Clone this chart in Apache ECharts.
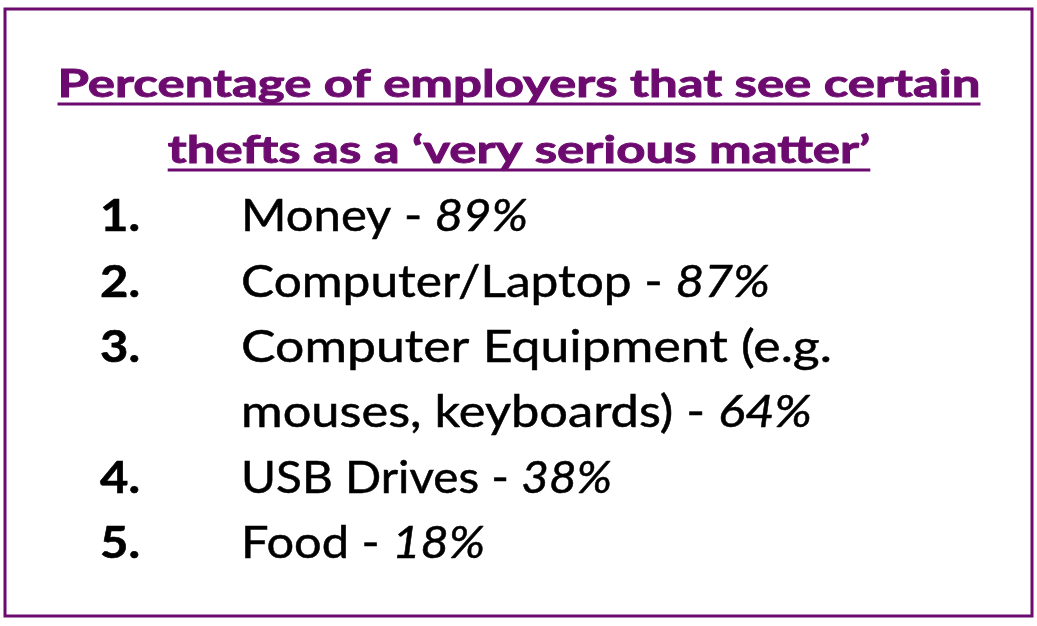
<!DOCTYPE html>
<html>
<head>
<meta charset="utf-8">
<script src="https://cdn.jsdelivr.net/npm/echarts@6/dist/echarts.min.js"></script>
<style>
html,body{margin:0;padding:0;background:#fff;}
#chart{width:1037px;height:626px;}
</style>
</head>
<body>
<div id="chart"></div>
<script>
// ---- data ----
const titleLines = ['Percentage of employers that see certain', 'thefts as a \u2018very serious matter\u2019'];
const ranks = ['1.', '2.', '3.', '4.', '5.'];
const categories = ['Money', 'Computer/Laptop', 'Computer Equipment (e.g.\nmouses, keyboards)', 'USB Drives', 'Food'];
const values = [89, 87, 64, 38, 18];

// ---- style / layout ----
const PURPLE = '#6d0a6f';
const FONT = 'Lato';
const TITLE_SIZE = 38;
const ITEM_SIZE = 44;
const TITLE_CX = 519;
const TITLE_BASE = [97, 163];
const TITLE_W1 = 923;
const ITEM_BASE0 = 231;
const ITEM_STEP = 65.4;
const RANK_X = 100;
const RANK_W = 40;
const TEXT_X = 241;
const LINE_RIGHT = [528, 770, 832, 812, 612, 485]; // right edge of each printed line

const chart = echarts.init(document.getElementById('chart'));
const ctx = document.createElement('canvas').getContext('2d');
function measure(font, txt) { ctx.font = font; return ctx.measureText(txt).width; }

function build() {
  const g = [];
  // frame
  g.push({type: 'rect', shape: {x: 5, y: 9, width: 1027, height: 607},
    style: {fill: 'none', stroke: PURPLE, lineWidth: 3}});
  // title
  const tFont = 'bold ' + TITLE_SIZE + 'px ' + FONT;
  const tScale = TITLE_W1 / measure(tFont, titleLines[0]);
  titleLines.forEach((t, i) => {
    const w = measure(tFont, t) * tScale;
    g.push({type: 'text', x: TITLE_CX, y: TITLE_BASE[i] - 0.32 * TITLE_SIZE, scaleX: tScale,
      style: {text: t, fill: PURPLE, stroke: PURPLE, lineWidth: 0.9, font: tFont, align: 'center', verticalAlign: 'middle'}});
    g.push({type: 'line', shape: {x1: TITLE_CX - w / 2, y1: TITLE_BASE[i] + 7, x2: TITLE_CX + w / 2, y2: TITLE_BASE[i] + 7},
      style: {stroke: PURPLE, lineWidth: 3}});
  });
  // list
  const iFont = ITEM_SIZE + 'px ' + FONT;
  const itFont = 'italic ' + ITEM_SIZE + 'px ' + FONT;
  const bFont = 'bold ' + ITEM_SIZE + 'px ' + FONT;
  const rScale = RANK_W / measure(bFont, '1.');
  let line = 0;
  categories.forEach((c, i) => {
    const parts = c.split('\n');
    const y0 = ITEM_BASE0 + line * ITEM_STEP - 0.32 * ITEM_SIZE;
    g.push({type: 'text', x: RANK_X, y: y0, scaleX: rScale,
      style: {text: ranks[i], fill: '#000', stroke: '#000', lineWidth: 0.6, font: bFont, align: 'left', verticalAlign: 'middle'}});
    parts.forEach((p, k) => {
      const y = ITEM_BASE0 + line * ITEM_STEP - 0.32 * ITEM_SIZE;
      const last = k === parts.length - 1;
      const txt = last ? '{n|' + p + ' - }{v|' + values[i] + '%}' : '{n|' + p + '}';
      const w = last ? measure(iFont, p + ' - ') + measure(itFont, values[i] + '%') : measure(iFont, p);
      const sc = (LINE_RIGHT[line] - TEXT_X) / w;
      g.push({type: 'text', x: TEXT_X, y: y, scaleX: sc,
        style: {text: txt, fill: '#000', align: 'left', verticalAlign: 'middle',
          rich: {
            n: {fontFamily: FONT, fontSize: ITEM_SIZE, fill: '#000', stroke: '#000', lineWidth: 0.5},
            v: {fontFamily: FONT, fontSize: ITEM_SIZE, fontStyle: 'italic', fill: '#000', stroke: '#000', lineWidth: 0.5}
          }}});
      line++;
    });
  });
  chart.setOption({animation: false, backgroundColor: '#fff', graphic: {elements: g}}, true);
}
build();
if (document.fonts && document.fonts.load) {
  Promise.all([
    document.fonts.load('bold 38px Lato'),
    document.fonts.load('44px Lato'),
    document.fonts.load('italic 44px Lato'),
    document.fonts.load('bold 44px Lato')
  ]).then(build, build);
}
</script>
</body>
</html>
